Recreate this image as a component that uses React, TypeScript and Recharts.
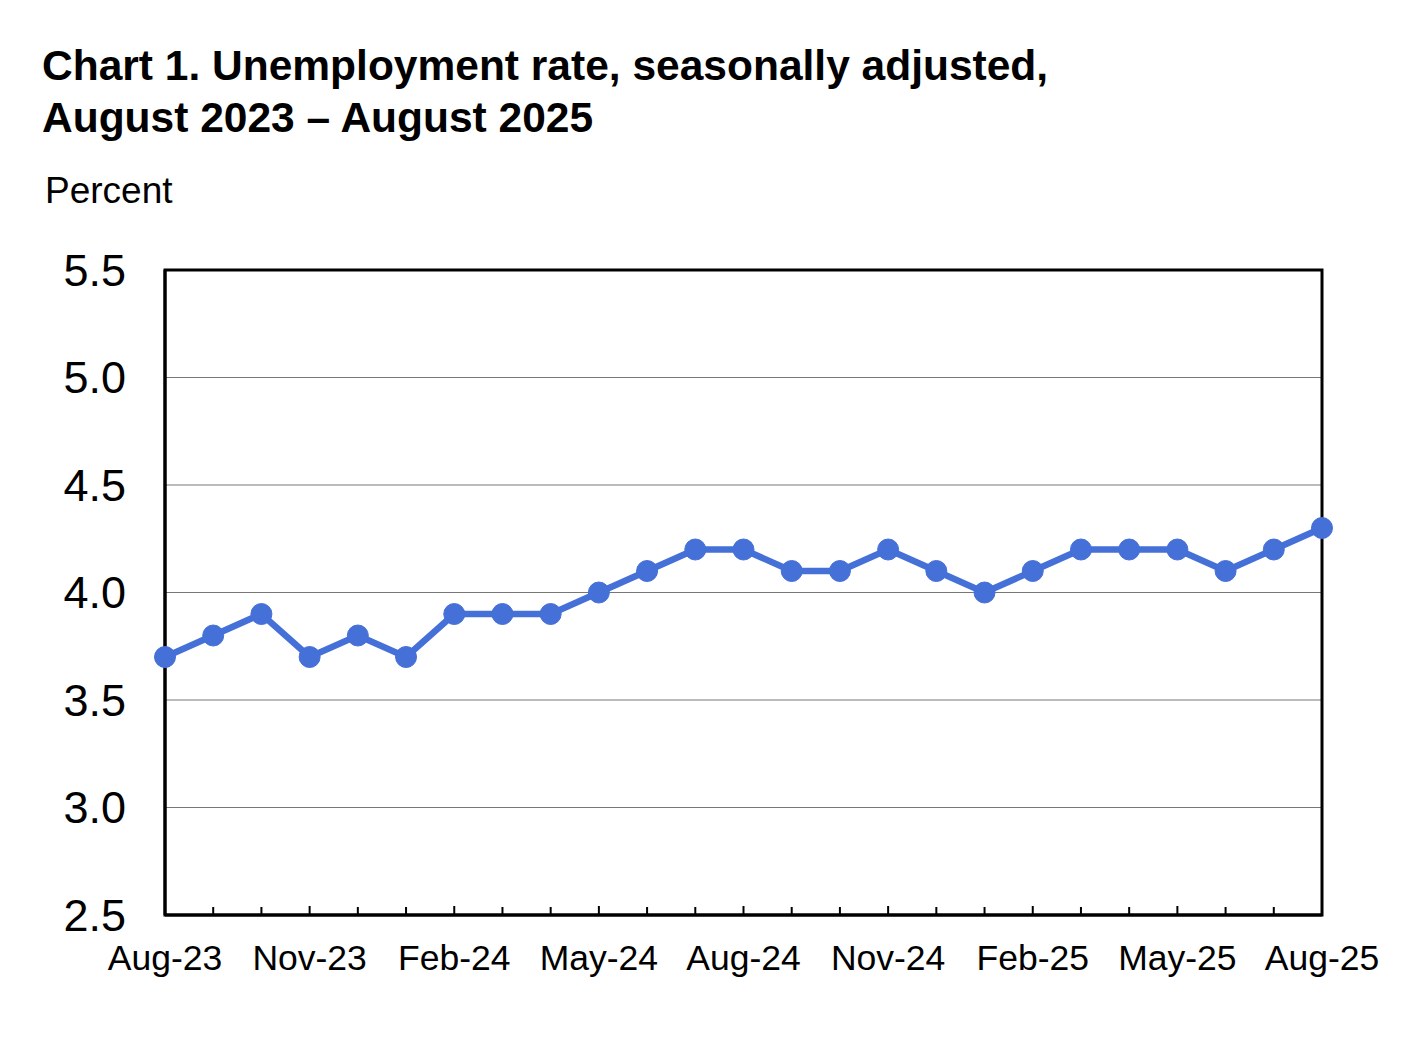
import React from "react"
import { LineChart, Line, XAxis, YAxis, CartesianGrid, ReferenceArea } from "recharts"

const months = [
  "Aug-23", "Sep-23", "Oct-23", "Nov-23", "Dec-23", "Jan-24", "Feb-24", "Mar-24", "Apr-24",
  "May-24", "Jun-24", "Jul-24", "Aug-24", "Sep-24", "Oct-24", "Nov-24", "Dec-24", "Jan-25",
  "Feb-25", "Mar-25", "Apr-25", "May-25", "Jun-25", "Jul-25", "Aug-25",
]

const rates = [
  3.7, 3.8, 3.9, 3.7, 3.8, 3.7, 3.9, 3.9, 3.9, 4.0, 4.1, 4.2, 4.2,
  4.1, 4.1, 4.2, 4.1, 4.0, 4.1, 4.2, 4.2, 4.2, 4.1, 4.2, 4.3,
]

const yTicks = [2.5, 3.0, 3.5, 4.0, 4.5, 5.0, 5.5]

const data = months.map((m, i) => ({ month: m, rate: rates[i] }))

const FONT = "'Liberation Sans', Arial, Helvetica, sans-serif"
const BLUE = "#4470D8"

function MonthTick(props: any) {
  const { x, y, index, payload } = props
  const major = index % 3 === 0
  return (
    <g>
      <line x1={x} x2={x} y1={y} y2={y - (major ? 9 : 8)} stroke="#000" strokeWidth={2} />
      {major && (
        <text x={x} y={y + 55} textAnchor="middle" fontSize={35.5} fill="#000" fontFamily={FONT}>
          {payload.value}
        </text>
      )}
    </g>
  )
}

export default function App() {
  return (
    <div style={{ position: "absolute", left: 0, top: 0, width: 1406, height: 1042, background: "#fff" }}>
      <svg width={1406} height={230} style={{ position: "absolute", left: 0, top: 0 }}>
        <text x={42} y={80} fontSize={42.5} fontWeight="bold" fontFamily={FONT}>
          Chart 1. Unemployment rate, seasonally adjusted,
        </text>
        <text x={42} y={132} fontSize={42.5} fontWeight="bold" fontFamily={FONT}>
          August 2023 – August 2025
        </text>
        <text x={45} y={203} fontSize={37} fontFamily={FONT}>
          Percent
        </text>
      </svg>
      <div style={{ position: "absolute", left: 0, top: 0 }}>
        <LineChart
          width={1406}
          height={1042}
          data={data}
          margin={{ top: 270, right: 84, bottom: 77, left: 0 }}
        >
          <CartesianGrid vertical={false} stroke="#777" strokeWidth={1} />
          <ReferenceArea
            x1="Aug-23"
            x2="Aug-25"
            y1={2.5}
            y2={5.5}
            fill="none"
            stroke="#000"
            strokeWidth={3}
            fillOpacity={0}
            strokeOpacity={1}
          />
          <XAxis
            dataKey="month"
            interval={0}
            tickSize={0}
            tickMargin={0}
            tickLine={false}
            axisLine={{ stroke: "#000", strokeWidth: 3 }}
            tick={<MonthTick />}
            height={50}
          />
          <YAxis
            domain={[2.5, 5.5]}
            ticks={yTicks}
            width={165}
            tickLine={false}
            axisLine={{ stroke: "#000", strokeWidth: 3 }}
            tickMargin={33}
            tickFormatter={(v: number) => v.toFixed(1)}
            tick={{ fontSize: 45, fill: "#000", fontFamily: FONT }}
          />
          <Line
            type="linear"
            dataKey="rate"
            stroke={BLUE}
            strokeWidth={6.5}
            dot={{ r: 10.5, fill: BLUE, stroke: BLUE, strokeWidth: 1 }}
            isAnimationActive={false}
          />
        </LineChart>
      </div>
    </div>
  )
}
